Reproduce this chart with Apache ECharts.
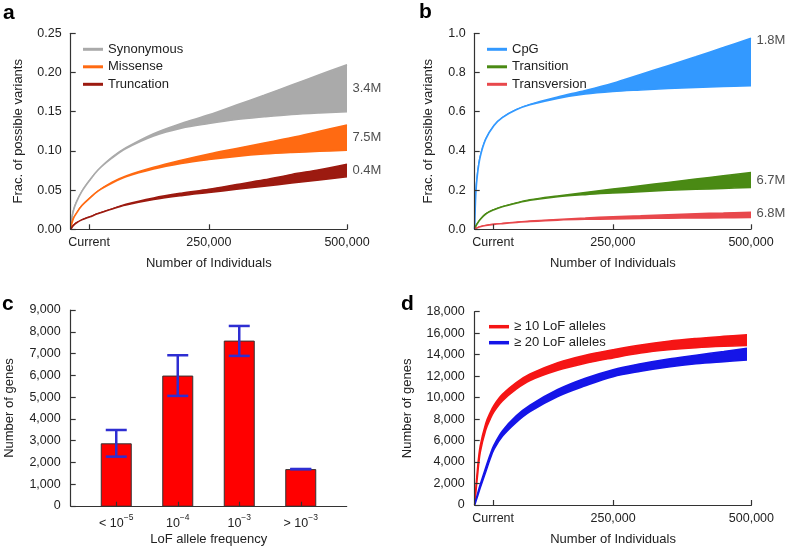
<!DOCTYPE html>
<html>
<head>
<meta charset="utf-8">
<script src="https://cdn.jsdelivr.net/npm/echarts@6/dist/echarts.min.js"></script>
<style>
html,body{margin:0;padding:0;background:#fff;}
#chart{width:788px;height:547px;}
</style>
</head>
<body>
<div id="chart"></div>
<script>
// ---------- DATA ----------
// Panels a & b: number of individuals
const individualsAB = [0, 2000, 5000, 10000, 20000, 35000, 50000, 75000, 100000, 150000, 200000, 250000, 300000, 350000, 400000, 450000, 500000];
// Panel a: fraction of possible variants (lower / upper bounds)
const synonymousLow  = [0, 0.013, 0.024, 0.034, 0.048, 0.063, 0.076, 0.091, 0.103, 0.119, 0.129, 0.135, 0.140, 0.1435, 0.1465, 0.1485, 0.150];
const synonymousHigh = [0, 0.013, 0.024, 0.034, 0.048, 0.063, 0.076, 0.092, 0.104, 0.122, 0.135, 0.146, 0.1585, 0.171, 0.184, 0.197, 0.210];
const missenseLow    = [0, 0.007, 0.014, 0.020, 0.030, 0.040, 0.049, 0.059, 0.067, 0.077, 0.084, 0.089, 0.093, 0.096, 0.098, 0.0995, 0.101];
const missenseHigh   = [0, 0.007, 0.014, 0.020, 0.030, 0.040, 0.049, 0.060, 0.068, 0.079, 0.088, 0.096, 0.103, 0.110, 0.117, 0.125, 0.133];
const truncationLow  = [0, 0.002, 0.005, 0.008, 0.012, 0.016, 0.020, 0.026, 0.031, 0.038, 0.043, 0.047, 0.051, 0.055, 0.059, 0.063, 0.067];
const truncationHigh = [0, 0.002, 0.005, 0.008, 0.012, 0.016, 0.020, 0.026, 0.032, 0.040, 0.046, 0.051, 0.057, 0.063, 0.070, 0.076, 0.083];
const bandLabelsA = ['3.4M', '7.5M', '0.4M'];
// Panel b
const cpgLow   = [0, 0.18, 0.28, 0.37, 0.46, 0.53, 0.57, 0.61, 0.635, 0.668, 0.690, 0.703, 0.711, 0.718, 0.724, 0.729, 0.733];
const cpgHigh  = [0, 0.18, 0.28, 0.37, 0.46, 0.53, 0.57, 0.61, 0.637, 0.675, 0.708, 0.745, 0.790, 0.835, 0.880, 0.927, 0.975];
const transitionLow  = [0, 0.015, 0.030, 0.050, 0.078, 0.100, 0.115, 0.133, 0.148, 0.166, 0.177, 0.185, 0.192, 0.199, 0.204, 0.209, 0.214];
const transitionHigh = [0, 0.015, 0.030, 0.050, 0.078, 0.100, 0.115, 0.134, 0.150, 0.170, 0.188, 0.205, 0.222, 0.239, 0.256, 0.273, 0.289];
const transversionLow  = [0, 0.004, 0.008, 0.013, 0.019, 0.025, 0.029, 0.035, 0.040, 0.047, 0.051, 0.053, 0.055, 0.057, 0.058, 0.059, 0.060];
const transversionHigh = [0, 0.004, 0.008, 0.013, 0.019, 0.025, 0.029, 0.036, 0.042, 0.050, 0.057, 0.064, 0.069, 0.074, 0.079, 0.083, 0.087];
const bandLabelsB = ['1.8M', '6.7M', '6.8M'];
// Panel c
const frequencyCategories = ['{b|< 10}{s|\u22125}', '{b|10}{s|\u22124}', '{b|10}{s|\u22123}', '{b|> 10}{s|\u22123}'];
const geneCounts = [2900, 6000, 7600, 1720];
const geneErrLow  = [2290, 5070, 6900, 1720];
const geneErrHigh = [3510, 6930, 8270, 1720];
// Panel d
const individualsD = [0, 5000, 10000, 20000, 28000, 35000, 50000, 75000, 100000, 150000, 200000, 250000, 300000, 350000, 400000, 450000, 492000];
const lof10High = [0, 3300, 5500, 7600, 8600, 9300, 10300, 11400, 12200, 13250, 13950, 14450, 14900, 15250, 15500, 15700, 15850];
const lof10Low  = [0, 2700, 4900, 7000, 8000, 8700, 9700, 10800, 11600, 12550, 13200, 13700, 14150, 14450, 14650, 14780, 14850];
const lof20High = [0, 1000, 1900, 3500, 4700, 5600, 6900, 8300, 9300, 10750, 11800, 12600, 13150, 13600, 13950, 14300, 14600];
const lof20Low  = [0, 800, 1600, 3100, 4300, 5200, 6400, 7700, 8700, 10100, 11100, 11950, 12450, 12850, 13150, 13350, 13500];
// Axis ticks
const xTickValues = [33370, 250000, 500000];
const xTickLabels = ['Current', '250,000', '500,000'];

// ---------- STYLE ----------
const FONT = 'Liberation Sans, Arial, Helvetica, sans-serif';
const TXT = '#222';
const AX = '#333';

function fmtComma(v){ return v.toLocaleString('en-US'); }

function xAxisIndiv(gridIndex){
  return {
    type:'value', gridIndex, min:0, max:500000, z:20,
    name:'Number of Individuals', nameLocation:'middle', nameGap:28,
    nameTextStyle:{fontFamily:FONT, fontSize:13, color:TXT},
    axisLine:{show:true, lineStyle:{color:AX, width:1.2}},
    axisTick:{show:true, inside:true, length:5, customValues:xTickValues, lineStyle:{color:AX, width:1.2}},
    axisLabel:{show:true, margin:7, customValues:xTickValues, fontFamily:FONT, fontSize:12.5, color:TXT,
      formatter:(v)=>{ const i = xTickValues.indexOf(v); return i>=0 ? xTickLabels[i] : ''; }},
    splitLine:{show:false}
  };
}
function yAxisVal(gridIndex, max, interval, fmt, name, gap, margin){
  return {
    type:'value', gridIndex, min:0, max, interval, z:20,
    name, nameLocation:'middle', nameGap:gap, nameRotate:90,
    nameTextStyle:{fontFamily:FONT, fontSize:13, color:TXT},
    axisLine:{show:true, lineStyle:{color:AX, width:1.2}},
    axisTick:{show:true, inside:true, length:5, lineStyle:{color:AX, width:1.2}},
    axisLabel:{show:true, margin, fontFamily:FONT, fontSize:12.5, color:TXT, formatter:fmt},
    splitLine:{show:false}
  };
}
let zc = 2;
function band(name, color, xs, low, high, axisIdx){
  const up = {
    type:'line', name, xAxisIndex:axisIdx, yAxisIndex:axisIdx, color,
    data: xs.map((x,i)=>[x, high[i]]), symbol:'none', smooth:0.35,
    lineStyle:{color, width:1.6}, areaStyle:{color, opacity:1}, z: zc++, silent:true
  };
  const lo = {
    type:'line', name: name+' (lower)', xAxisIndex:axisIdx, yAxisIndex:axisIdx, color,
    data: xs.map((x,i)=>[x, low[i]]), symbol:'none', smooth:0.35,
    lineStyle:{color, width:1.6}, areaStyle:{color:'#ffffff', opacity:1}, z: zc++, silent:true
  };
  return [up, lo];
}
function endLabels(xs, lows, highs, labels, axisIdx, offsets){
  const last = xs.length-1;
  return {
    type:'scatter', xAxisIndex:axisIdx, yAxisIndex:axisIdx, symbolSize:1, z:30,
    itemStyle:{color:'rgba(0,0,0,0)'},
    data: labels.map((l,k)=>({
      value:[xs[last], (lows[k][last]+highs[k][last])/2],
      label:{show:true, position:'right', distance:5, formatter:l, offset:offsets[k],
        fontFamily:FONT, fontSize:13, color:TXT}
    }))
  };
}
function legend(left, top, names, colors, gap, h){
  return {
    orient:'vertical', left, top, itemWidth:20, itemHeight:h, itemGap:gap, padding:0,
    selectedMode:false,
    textStyle:{fontFamily:FONT, fontSize:13, color:TXT},
    data: names.map((n,i)=>({name:n, icon:'rect', itemStyle:{color:colors[i]}}))
  };
}

const cols = {syn:'#aaaaaa', mis:'#ff6a12', tru:'#9c1a10', cpg:'#3399ff', ts:'#4a8a14', tv:'#e8484c', l10:'#f51515', l20:'#1515e8'};

const series = [];
// panel a (axis index 0)
series.push(...band('Synonymous', cols.syn, individualsAB, synonymousLow, synonymousHigh, 0));
series.push(...band('Missense', cols.mis, individualsAB, missenseLow, missenseHigh, 0));
series.push(...band('Truncation', cols.tru, individualsAB, truncationLow, truncationHigh, 0));
series.push(endLabels(individualsAB, [synonymousLow, missenseLow, truncationLow], [synonymousHigh, missenseHigh, truncationHigh], bandLabelsA, 0, [[0,0],[0,0],[0,0]]));
// panel b (axis index 1)
series.push(...band('CpG', cols.cpg, individualsAB, cpgLow, cpgHigh, 1));
series.push(...band('Transition', cols.ts, individualsAB, transitionLow, transitionHigh, 1));
series.push(...band('Transversion', cols.tv, individualsAB, transversionLow, transversionHigh, 1));
series.push(endLabels(individualsAB, [cpgLow, transitionLow, transversionLow], [cpgHigh, transitionHigh, transversionHigh], bandLabelsB, 1, [[0,-21],[0,0],[0,-1]]));
// panel d (axis index 2)
series.push(...band('\u2265 10 LoF alleles', cols.l10, individualsD, lof10Low, lof10High, 2));
series.push(...band('\u2265 20 LoF alleles', cols.l20, individualsD, lof20Low, lof20High, 2));
// panel c bars (axis index 4: category grid)
series.push({
  type:'bar', xAxisIndex:4, yAxisIndex:4, data:geneCounts, barWidth:31, z:2,
  itemStyle:{color:'#ff0000', borderColor:'#333', borderWidth:1}, silent:true
});
series.push({
  type:'custom', xAxisIndex:4, yAxisIndex:4, z:10, silent:true,
  data: geneCounts.map((v,i)=>[i, geneErrLow[i], geneErrHigh[i]]),
  encode:{x:0, y:[1,2]},
  renderItem:(params, api)=>{
    const i = api.value(0);
    const pLo = api.coord([i, api.value(1)]);
    const pHi = api.coord([i, api.value(2)]);
    const hw = 10.5;
    const st = {stroke:'#2e2ed2', lineWidth:2.5};
    return {type:'group', children:[
      {type:'line', shape:{x1:pLo[0], y1:pLo[1], x2:pHi[0], y2:pHi[1]}, style:st},
      {type:'line', shape:{x1:pLo[0]-hw, y1:pLo[1], x2:pLo[0]+hw, y2:pLo[1]}, style:st},
      {type:'line', shape:{x1:pHi[0]-hw, y1:pHi[1], x2:pHi[0]+hw, y2:pHi[1]}, style:st}
    ]};
  }
});

const option = {
  animation:false,
  backgroundColor:'#ffffff',
  textStyle:{fontFamily:FONT},
  grid:[
    {left:70.7, top:33.3, width:276.3, height:196},     // a
    {left:474.7, top:33.3, width:276.3, height:196},    // b
    {left:474.7, top:311.7, width:276.73, height:195},  // d
    {left:70.7, top:310, width:276, height:196.7},      // c axes
    {left:85.5, top:310, width:246, height:196.7}       // c bars
  ],
  xAxis:[
    xAxisIndiv(0), xAxisIndiv(1), xAxisIndiv(2),
    {type:'value', gridIndex:3, min:0, max:1, z:20,
      name:'LoF allele frequency', nameLocation:'middle', nameGap:27,
      nameTextStyle:{fontFamily:FONT, fontSize:13, color:TXT},
      axisLine:{show:true, lineStyle:{color:AX, width:1.2}}, axisTick:{show:false}, axisLabel:{show:false}, splitLine:{show:false}},
    {type:'category', gridIndex:4, data:frequencyCategories, z:20,
      axisLine:{show:false},
      axisTick:{show:true, inside:true, length:5, alignWithLabel:true, interval:0, lineStyle:{color:AX, width:1.2}},
      axisLabel:{show:true, interval:0, margin:6, color:TXT, hideOverlap:false,
        rich:{b:{fontFamily:FONT, fontSize:12.5, color:TXT, lineHeight:17, verticalAlign:'bottom'},
              s:{fontFamily:FONT, fontSize:8.5, color:TXT, lineHeight:17, verticalAlign:'top'}}},
      splitLine:{show:false}}
  ],
  yAxis:[
    yAxisVal(0, 0.25, 0.05, v=>v.toFixed(2), 'Frac. of possible variants', 46, 9),
    yAxisVal(1, 1.0, 0.2, v=>v.toFixed(1), 'Frac. of possible variants', 40, 9),
    yAxisVal(2, 18000, 2000, fmtComma, 'Number of genes', 61, 10),
    yAxisVal(3, 9000, 1000, fmtComma, 'Number of genes', 55, 10),
    {type:'value', gridIndex:4, min:0, max:9000, interval:1000, show:false, splitLine:{show:false}}
  ],
  legend:[
    legend(83, 42.8, ['Synonymous','Missense','Truncation'], [cols.syn, cols.mis, cols.tru], 4.5, 3),
    legend(487, 42.8, ['CpG','Transition','Transversion'], [cols.cpg, cols.ts, cols.tv], 4.5, 3),
    legend(489, 320.2, ['\u2265 10 LoF alleles','\u2265 20 LoF alleles'], [cols.l10, cols.l20], 3, 3.5)
  ],
  graphic:[
    {type:'text', left:3, top:3, style:{text:'a', font:'bold 21px '+FONT, fill:'#000'}},
    {type:'text', left:419, top:2, style:{text:'b', font:'bold 21px '+FONT, fill:'#000'}},
    {type:'text', left:2, top:294, style:{text:'c', font:'bold 21px '+FONT, fill:'#000'}},
    {type:'text', left:401, top:294, style:{text:'d', font:'bold 21px '+FONT, fill:'#000'}}
  ],
  series
};
const chart = echarts.init(document.getElementById('chart'), null, {renderer:'canvas'});
chart.setOption(option);
</script>
</body>
</html>
